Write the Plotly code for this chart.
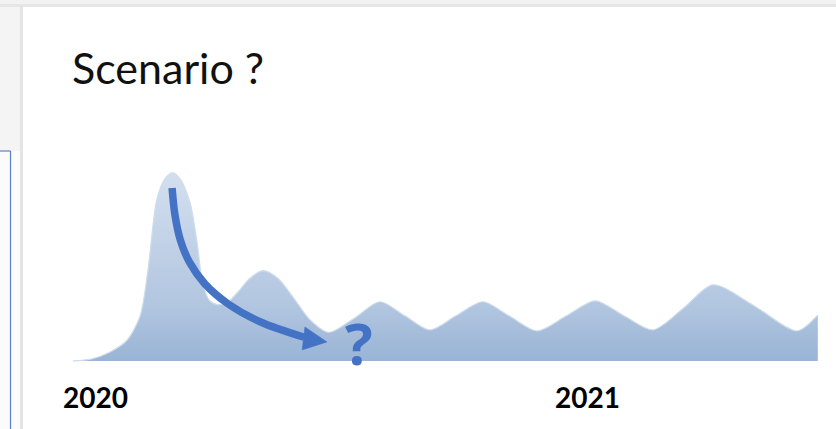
import plotly.graph_objects as go

# Epidemic wave sketch: time in months since Jan 2020, level relative to first peak (=100)
months = [-0.54, -0.10, 0.37, 0.78, 1.10, 1.29, 1.51, 1.71, 1.90, 2.10, 2.32, 2.49,
          2.63, 2.80, 3.00, 3.22, 3.46, 3.78, 4.10, 4.46, 4.83, 5.24, 5.70, 6.34,
          6.95, 7.56, 8.17, 8.80, 9.46, 10.10, 10.78, 11.50, 12.20, 12.90, 13.61,
          14.35, 15.07, 16.10, 17.12, 17.63]
levels = [0, 1, 4.8, 11, 24, 48, 86, 97, 100, 96, 84, 63,
          41, 32, 30, 31, 36, 44, 48, 44, 34, 22, 15.2, 23,
          31.5, 24, 16.5, 24, 31.5, 24, 16, 24, 32, 24, 16.5,
          28, 40.5, 29, 16, 24.5]

# Downward trend arrow (shaft and head), same units
arrow_months = [1.88, 1.95, 2.08, 2.30, 2.68, 3.25, 4.04, 5.10]
arrow_levels = [92.0, 77.7, 64.4, 52.7, 41.0, 30.3, 20.7, 12.6]
head_months = [5.12, 5.66, 5.05, 5.12]
head_levels = [18.1, 10.1, 5.85, 18.1]

year_ticks = [0, 12]
year_labels = ["2020", "2021"]

W, H = 836, 429
BLUE = "#4472c4"


def px_x(p):
    return p / W


def px_y(p):
    return 1 - p / H


fig = go.Figure()

fig.add_trace(go.Scatter(
    x=months, y=levels, mode="lines",
    line=dict(shape="spline", smoothing=0.8, width=1.2, color="#cfdcee"),
    fill="tozeroy",
    fillgradient=dict(type="vertical", start=0, stop=100,
                      colorscale=[[0, "#99b4d5"], [0.3, "#b2c6e0"], [1, "#d3dfef"]]),
    hoverinfo="skip", showlegend=False,
))

fig.add_trace(go.Scatter(
    x=arrow_months, y=arrow_levels, mode="lines",
    line=dict(shape="spline", smoothing=1.0, width=7.5, color=BLUE),
    hoverinfo="skip", showlegend=False,
))
fig.add_trace(go.Scatter(
    x=head_months, y=head_levels, mode="lines", fill="toself",
    fillcolor=BLUE, line=dict(width=0.5, color=BLUE),
    hoverinfo="skip", showlegend=False,
))

# Slide frame decorations
shapes = [
    dict(type="rect", xref="paper", yref="paper", x0=0, x1=1, y0=px_y(4), y1=1,
         fillcolor="#f2f2f2", line_width=0, layer="below"),
    dict(type="rect", xref="paper", yref="paper", x0=0, x1=1, y0=px_y(7), y1=px_y(4),
         fillcolor="#e6e6e6", line_width=0, layer="below"),
    dict(type="rect", xref="paper", yref="paper", x0=0, x1=px_x(20), y0=0, y1=px_y(7),
         fillcolor="#f4f4f4", line_width=0, layer="below"),
    dict(type="rect", xref="paper", yref="paper", x0=px_x(20), x1=px_x(23), y0=0, y1=px_y(7),
         fillcolor="#e4e4e4", line_width=0, layer="below"),
    dict(type="rect", xref="paper", yref="paper", x0=0, x1=px_x(20), y0=0, y1=px_y(151),
         fillcolor="#fbfbfb", line_width=0, layer="below"),
    dict(type="line", xref="paper", yref="paper", x0=px_x(10.5), x1=px_x(10.5),
         y0=0, y1=px_y(151), line=dict(color="#5b7fcc", width=1.2)),
    dict(type="line", xref="paper", yref="paper", x0=0, x1=px_x(10.5),
         y0=px_y(151), y1=px_y(151), line=dict(color="#5b7fcc", width=1.2)),
]

annotations = [
    dict(text="Scenario ?", xref="paper", yref="paper", x=px_x(70), y=px_y(68),
         xanchor="left", yanchor="middle", showarrow=False,
         font=dict(family="Lato", size=43, color="#111111")),
    dict(text="<b>?</b>", xref="x", yref="y", x=6.43, y=10,
         xanchor="center", yanchor="middle", showarrow=False,
         font=dict(family="Open Sans", size=58, color=BLUE)),
]
for tv, tl in zip(year_ticks, year_labels):
    annotations.append(dict(text=f"<b>{tl}</b>", xref="x", yref="paper", x=tv,
                            y=px_y(397), xanchor="center", yanchor="middle",
                            showarrow=False,
                            font=dict(family="Lato", size=28, color="#000000")))

fig.update_layout(
    width=W, height=H,
    margin=dict(l=0, r=0, t=0, b=0),
    paper_bgcolor="white", plot_bgcolor="rgba(0,0,0,0)",
    xaxis=dict(range=[-95 / 41, (W - 95) / 41], visible=False, fixedrange=True),
    yaxis=dict(range=[-36.2, 192.0], visible=False, fixedrange=True),
    shapes=shapes, annotations=annotations,
    showlegend=False,
)

fig.write_html("out.html", config={"displayModeBar": False})
